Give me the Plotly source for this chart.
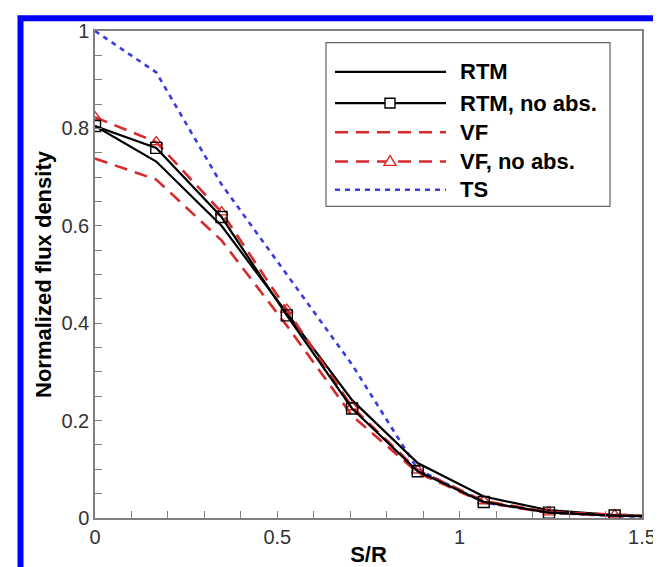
import plotly.graph_objects as go

# ---- data ----
s_over_r = [0.0, 0.168, 0.347, 0.526, 0.705, 0.885, 1.066, 1.245, 1.425, 1.6]
rtm = [0.805, 0.732, 0.600, 0.420, 0.242, 0.113, 0.044, 0.016, 0.006, 0.002]
rtm_no_abs = [0.805, 0.760, 0.618, 0.416, 0.225, 0.096, 0.033, 0.011, 0.005, 0.002]
vf = [0.738, 0.695, 0.570, 0.395, 0.210, 0.093, 0.032, 0.011, 0.005, 0.002]
vf_no_abs = [0.823, 0.772, 0.628, 0.428, 0.228, 0.098, 0.035, 0.012, 0.006, 0.002]
ts = [1.000, 0.915, 0.685, 0.500, 0.315, 0.100, 0.032, 0.011, 0.004, 0.001]

series_names = ["RTM", "RTM, no abs.", "VF", "VF, no abs.", "TS"]
x_tickvals = [0, 0.5, 1, 1.5]
x_ticktext = ["0", "0.5", "1", "1.5"]
y_tickvals = [0, 0.2, 0.4, 0.6, 0.8, 1.0]
y_ticktext = ["0", "0.2", "0.4", "0.6", "0.8", "1"]

BLACK = "#000000"
RED = "#d82a2a"
BLUE = "#3b3be0"
FONT = "Liberation Sans, Arial, sans-serif"

styles = [
    dict(color=BLACK, width=2.2, dash="solid", symbol=None),
    dict(color=BLACK, width=2.2, dash="solid", symbol="square-open"),
    dict(color=RED, width=2.6, dash="13px,8px", symbol=None),
    dict(color=RED, width=2.6, dash="13px,8px", symbol="triangle-up-open"),
    dict(color=BLUE, width=2.6, dash="5px,5px", symbol=None),
]
values = [rtm, rtm_no_abs, vf, vf_no_abs, ts]

fig = go.Figure()
# draw in an order so the markers sit on top
for idx in [4, 2, 0, 3, 1]:
    st = styles[idx]
    mode = "lines+markers" if st["symbol"] else "lines"
    kw = dict(
        x=s_over_r, y=values[idx], mode=mode, name=series_names[idx],
        line=dict(color=st["color"], width=st["width"], dash=st["dash"]),
        showlegend=False, cliponaxis=True,
    )
    if st["symbol"]:
        kw["marker"] = dict(symbol=st["symbol"], size=11,
                            color=st["color"], line=dict(width=1.4, color=st["color"]))
    fig.add_trace(go.Scatter(**kw))

# ---- plot-area geometry (pixels) ----
W, H = 661, 567
L, R, T, B = 87, 27, 23, 44
PW, PH = W - L - R, H - T - B


def px(x):
    return (x - L) / PW


def py(y):
    return (H - B - y) / PH


shapes = []
annotations = []

# outer blue frame
shapes.append(dict(type="rect", xref="paper", yref="paper",
                   x0=px(12.5), x1=px(650.5), y0=py(590), y1=py(10),
                   line=dict(color="#0000ff", width=6), fillcolor="rgba(0,0,0,0)",
                   layer="above"))

# legend box
shapes.append(dict(type="rect", xref="paper", yref="paper",
                   x0=px(318), x1=px(602), y0=py(203), y1=py(35),
                   line=dict(color="#666666", width=1.2), fillcolor="white",
                   layer="above"))
rows = [65, 97, 127, 157, 186]
for i, name in enumerate(series_names):
    st = styles[i]
    yy = py(rows[i])
    shapes.append(dict(type="line", xref="paper", yref="paper",
                       x0=px(327), x1=px(438), y0=yy, y1=yy,
                       line=dict(color=st["color"], width=st["width"], dash=st["dash"]),
                       layer="above"))
    if st["symbol"] == "square-open":
        shapes.append(dict(type="rect", xref="paper", yref="paper",
                           x0=px(377), x1=px(387), y0=py(rows[i] + 5), y1=py(rows[i] - 5),
                           line=dict(color=st["color"], width=1.4), fillcolor="white",
                           layer="above"))
    elif st["symbol"] == "triangle-up-open":
        yb, yt = py(rows[i] + 4), py(rows[i] - 6)
        shapes.append(dict(type="path", xref="paper", yref="paper",
                           path=f"M {px(376)},{yb} L {px(388)},{yb} L {px(382)},{yt} Z",
                           line=dict(color=st["color"], width=1.4), fillcolor="white",
                           layer="above"))
    annotations.append(dict(xref="paper", yref="paper", x=px(450), y=yy,
                            text=f"<b>{name}</b>", showarrow=False,
                            xanchor="left", yanchor="middle",
                            font=dict(family=FONT, size=22, color="#000000")))

axis_common = dict(
    showgrid=False, zeroline=False, showline=True, linecolor="#808080", linewidth=1.5,
    mirror=True, ticks="inside", ticklen=7, tickwidth=1.2, tickcolor="#808080",
    tickfont=dict(family=FONT, size=20, color="#333333"),
)

fig.update_layout(
    width=W, height=H,
    margin=dict(l=L, r=R, t=T, b=B),
    paper_bgcolor="white", plot_bgcolor="white",
    shapes=shapes, annotations=annotations,
    xaxis=dict(range=[0, 1.5], tickvals=x_tickvals, ticktext=x_ticktext,
               title=dict(text="<b>S/R</b>", standoff=0,
                          font=dict(family=FONT, size=22, color="#000000")),
               minor=dict(dtick=0.1, ticks="inside", ticklen=7, tickcolor="#808080"),
               **axis_common),
    yaxis=dict(range=[0, 1.0], tickvals=y_tickvals, ticktext=y_ticktext,
               title=dict(text="<b>Normalized flux density</b>", standoff=4,
                          font=dict(family=FONT, size=22, color="#000000")),
               minor=dict(dtick=0.05, ticks="inside", ticklen=7, tickcolor="#808080"),
               **axis_common),
)

fig.write_html("out.html")
